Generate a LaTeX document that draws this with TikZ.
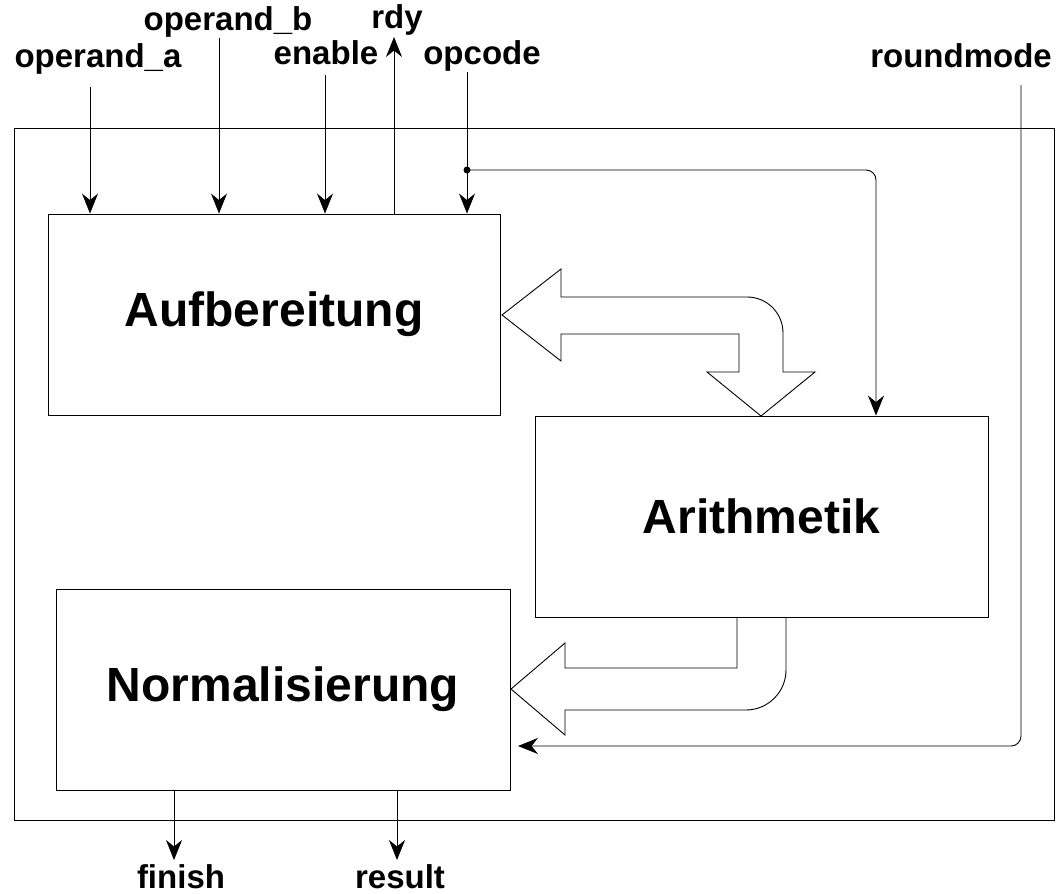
\documentclass[tikz,border=0pt]{standalone}
\usepackage{fontspec}
\setmainfont{Liberation Sans}
\usetikzlibrary{arrows.meta}

\begin{document}
\begin{tikzpicture}[x=1pt, y=-1pt,
				    block/.style={draw, line width=0.9pt, minimum height=201pt,
				    			  font=\fontsize{48}{56}\selectfont\bfseries},
				    port/.style={anchor=base, font=\fontsize{33}{40}\selectfont\bfseries},
				    wire/.style={line width=0.9pt},
				    sig/.style={wire, -{Stealth[length=20pt, width=16pt]}},
				    fat/.style={draw, line width=0.9pt, line join=miter}]
	\useasboundingbox (0,0) rectangle (1060,894);

	\node[draw, line width=0.9pt, minimum width=1040pt, minimum height=692pt] (sys) at (534.5, 474) {};
	\node[block, minimum width=452pt] (aufb) at (274, 314.5) {Aufbereitung};
	\node[block, minimum width=453pt] (arith) at (761.5, 516.5) {Arithmetik};
	\node[block, minimum width=454pt] (norm) at (283, 689.5) {Normalisierung};

	\node[port] (opa) at (98, 67) {operand\_a};
	\node[port] (opb) at (228, 30) {operand\_b};
	\node[port] (ena) at (326, 64) {enable};
	\node[port] (rdy) at (397, 28) {rdy};
	\node[port] (opc) at (482, 64) {opcode};
	\node[port] (rnd) at (961, 67) {roundmode};
	\node[port] (fin) at (181, 888) {finish};
	\node[port] (res) at (400, 888) {result};

	\coordinate (opaS) at (90, 87);
	\coordinate (opbS) at (219, 38);
	\coordinate (enaS) at (325, 75);
	\coordinate (rdyN) at (394, 37);
	\coordinate (opcS) at (467, 72);
	\coordinate (opcD) at (467, 170);
	\coordinate (arIn) at (876, 416);
	\coordinate (rndS) at (1021, 85);
	\coordinate (nrmIn) at (518, 746);
	\coordinate (finE) at (174, 860);
	\coordinate (resE) at (397, 860);

	\draw[sig] (opaS) -- (opaS |- aufb.north);
	\draw[sig] (opbS) -- (opbS |- aufb.north);
	\draw[sig] (enaS) -- (enaS |- aufb.north);
	\draw[sig] (rdyN |- aufb.north) -- (rdyN);
	\draw[sig] (opcS) -- (opcS |- aufb.north);
	\fill (opcD) circle (3.5pt);
	\draw[sig, rounded corners=10pt] (opcD) -- (opcD -| arIn) -- (arIn |- arith.north);
	\draw[sig, rounded corners=10pt] (rndS) -- (rndS |- nrmIn) -- (nrmIn);
	\draw[sig] (finE |- norm.south) -- (finE);
	\draw[sig] (resE |- norm.south) -- (resE);

	% Aufbereitung <-> Arithmetik
	\draw[fat] (502,315) -- (561,269) -- (561,297) -- (747,297)
		.. controls (767,297) and (783,313) .. (783,333) -- (783,372) -- (815,372)
		-- (761,416) -- (707,372) -- (739,372) -- (739,334) -- (561,334) -- (561,361) -- cycle;
	% Arithmetik -> Normalisierung
	\draw[fat] (737,617) -- (737,668) -- (565,668) -- (565,643) -- (511,689) -- (565,735)
		-- (565,710) -- (746,710) .. controls (768,710) and (786,692) .. (786,670) -- (786,617);

\end{tikzpicture}
\end{document}
